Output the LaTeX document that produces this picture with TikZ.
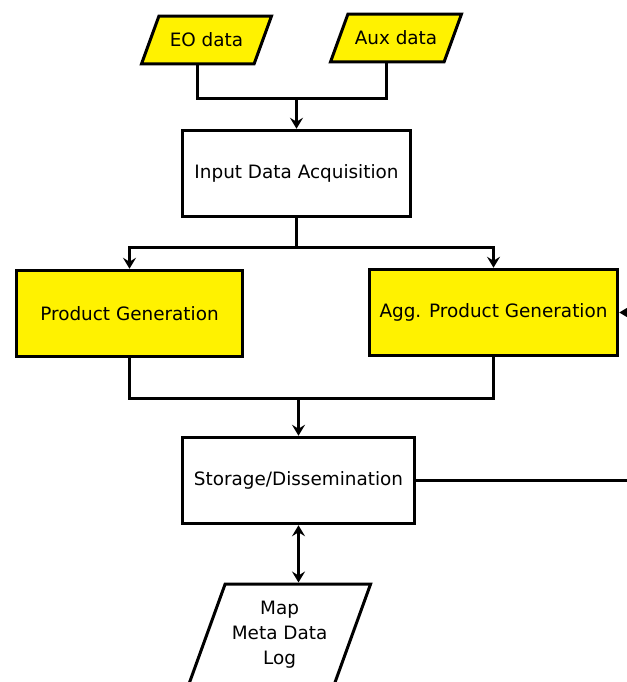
\documentclass[tikz,border=0pt]{standalone}
\usepackage{fontspec}
\setmainfont{DejaVu Sans}
\usetikzlibrary{shapes.geometric, arrows.meta, calc}

\tikzset{
    link/.style={line width=3bp},
    tip/.style={-{Stealth[length=11bp,width=13bp,inset=4bp]}},
    arrow/.style={tip, line width=3bp},
    biarrow/.style={{Stealth[length=11bp,width=13bp,inset=4bp]}-{Stealth[length=11bp,width=13bp,inset=4bp]}, line width=3bp},
    flowbox/.style={rectangle, draw, line width=3bp, minimum height=86.5bp, inner sep=0pt,
        font=\fontsize{18.4bp}{25bp}\selectfont},
    prodbox/.style={flowbox, fill=yellow},
    databox/.style={trapezium, trapezium left angle=70, trapezium right angle=110,
        trapezium stretches body, draw, line width=3bp, inner xsep=0pt,
        font=\fontsize{18.4bp}{25bp}\selectfont, align=center}
}

\begin{document}
\begin{tikzpicture}[x=1bp, y=-1bp]
    \useasboundingbox (0,0) rectangle (627,682);
    \clip (0,0) rectangle (627,682);

    % inputs
    \node[databox, fill=yellow, inner ysep=16.8bp, minimum width=130bp, minimum height=47.5bp] (eo) at (206.5,40) {EO data};
    \node[databox, fill=yellow, inner ysep=16.8bp, minimum width=131bp, minimum height=47.5bp] (aux) at (396,38) {Aux data};

    % processing chain
    \node[flowbox, minimum width=227.5bp] (acq) at (296.5,173.5) {Input Data Acquisition};
    \node[prodbox, minimum width=226.5bp] (prodgen) at (129.5,313.5) {Product Generation};
    \node[prodbox, minimum width=248.5bp] (aggprod) at (493.5,312.5) {Agg. Product Generation};
    \node[flowbox, minimum width=232.5bp] (store) at (298.5,480.5) {Storage/Dissemination};

    % outputs
    \node[databox, inner ysep=16.6bp, minimum width=182bp, minimum height=101bp] (out) at (279.6,634.5) {Map\\Meta Data\\Log};

    % joins and loose ends
    \coordinate (eofoot) at ($(eo.bottom left corner)!0.5!(eo.bottom right corner)$);
    \coordinate (auxfoot) at ($(aux.bottom left corner)!0.5!(aux.bottom right corner)$);
    \coordinate (join1) at (296.5,98.5);
    \coordinate (split1) at (296.5,247.5);
    \coordinate (join2) at (298.5,398.5);
    \coordinate (outtop) at (out.top left corner);
    \coordinate (feedin) at (640,312.5);
    \coordinate (feedout) at (640,480.5);

    \draw[link] (eofoot) |- (join1) -| (auxfoot);
    \draw[arrow] (join1) -- (acq.north);

    \draw[link] (acq.south) -- (split1);
    \draw[arrow] (split1) -| (prodgen.north);
    \draw[arrow] (split1) -| (aggprod.north);

    \draw[link] (prodgen.south) |- (join2) -| (aggprod.south);
    \draw[arrow] (join2) -- (store.north);

    \draw[biarrow] (store.south) -- (store.south |- outtop);

    \draw[link] (store.east) -- (feedout);
    \draw[arrow] (feedin) -- (aggprod.east);
\end{tikzpicture}
\end{document}
